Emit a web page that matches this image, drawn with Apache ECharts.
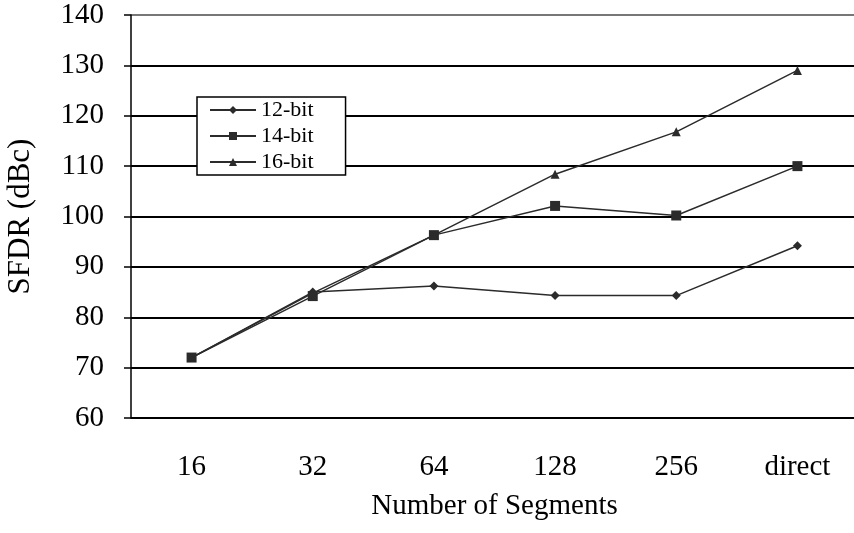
<!DOCTYPE html>
<html><head><meta charset="utf-8">
<script src="https://cdn.jsdelivr.net/npm/echarts@6/dist/echarts.min.js"></script>
<style>html,body{margin:0;padding:0;background:#fff}#c{width:854px;height:533px}</style>
</head><body><div id="c"></div>
<script>
const categories = ['16', '32', '64', '128', '256', 'direct'];
const bit12 = [72, 85, 86.2, 84.3, 84.3, 94.2];
const bit14 = [72, 84.2, 96.3, 102.1, 100.2, 110];
const bit16 = [72, 84.8, 96.3, 108.4, 116.8, 129];
const yTicks = [60, 70, 80, 90, 100, 110, 120, 130, 140];

const font = 'Liberation Serif';
const col = '#2b2b2b';
function mk(name, data, symbol, size) {
  return {
    name, type: 'line', data, symbol, symbolSize: size,
    lineStyle: { color: col, width: 1.5 },
    itemStyle: { color: col },
    emphasis: { disabled: true }, animation: false
  };
}
const chart = echarts.init(document.getElementById('c'));
chart.setOption({
  animation: false,
  grid: { left: 131, top: 15, bottom: 115, right: -4, containLabel: false, outerBoundsMode: 'none' },
  legend: {
    orient: 'vertical', left: 197, top: 97,
    borderColor: '#000', borderWidth: 1.5, backgroundColor: '#fff',
    padding: [2, 32, 2, 12], itemGap: 4, itemWidth: 46, itemHeight: 10,
    textStyle: { fontFamily: font, fontSize: 22, color: '#000' },
    data: ['12-bit', '14-bit', '16-bit']
  },
  xAxis: {
    type: 'category', data: categories, boundaryGap: true,
    name: 'Number of Segments', nameLocation: 'middle', nameGap: 74,
    nameTextStyle: { fontFamily: font, fontSize: 29, color: '#000' },
    axisLine: { lineStyle: { color: '#000', width: 1.5 } },
    axisTick: { length: 9, lineStyle: { color: '#000', width: 1.5 } },
    axisLabel: { fontFamily: font, fontSize: 29, color: '#000', margin: 35 }
  },
  yAxis: {
    type: 'value', min: yTicks[0], max: yTicks[yTicks.length - 1], interval: 10,
    name: 'SFDR (dBc)', nameLocation: 'middle', nameGap: 95,
    nameTextStyle: { fontFamily: font, fontSize: 31, color: '#000' },
    axisLine: { show: true, lineStyle: { color: '#000', width: 1.5 } },
    axisTick: { show: true, length: 7, lineStyle: { color: '#000', width: 1.5 } },
    axisLabel: { fontFamily: font, fontSize: 29, color: '#000', margin: 27 },
    splitLine: { show: true, lineStyle: { color: ['#000','#000','#000','#000','#000','#000','#000','#000','#777'], width: 1.8 } }
  },
  series: [
    mk('12-bit', bit12, 'diamond', 9),
    mk('14-bit', bit14, 'rect', 10),
    mk('16-bit', bit16, 'triangle', 9)
  ]
});
</script></body></html>
